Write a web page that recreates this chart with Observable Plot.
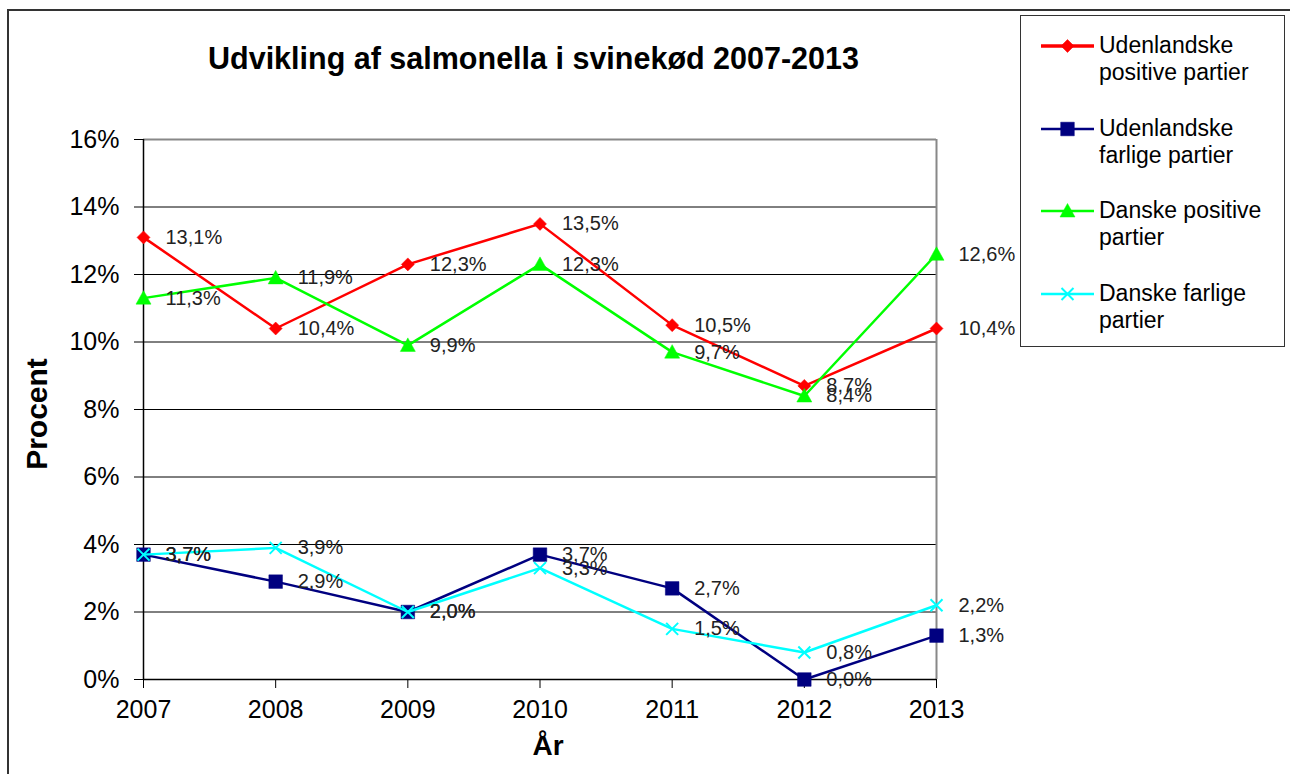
<!DOCTYPE html>
<html><head><meta charset="utf-8">
<script src="https://cdn.jsdelivr.net/npm/d3@7"></script>
<script src="https://cdn.jsdelivr.net/npm/@observablehq/plot@0.6"></script>
<style>
body{margin:0;background:#fff;font-family:"Liberation Sans",Arial,sans-serif;}
#wrap{position:relative;width:1290px;height:774px;overflow:hidden;background:#fff;}
#wrap svg.plot{position:absolute;left:0;top:0;}
.frame{position:absolute;left:7px;top:9px;width:2000px;height:2000px;border-left:2px solid #333;border-top:2px solid #333;pointer-events:none;}
.title{position:absolute;left:0;width:1067px;top:41px;text-align:center;font-weight:bold;font-size:30.5px;line-height:34px;color:#000;white-space:nowrap;}
.ylab{position:absolute;left:37px;top:414px;transform:translate(-50%,-50%) rotate(-90deg);font-weight:bold;font-size:30px;white-space:nowrap;color:#000;}
.xlab{position:absolute;left:548px;top:746px;transform:translate(-50%,-50%);font-weight:bold;font-size:28px;white-space:nowrap;color:#000;}
.legend{position:absolute;left:1020px;top:15px;width:263px;height:330px;border:1.5px solid #333;background:#fff;}
.entry{position:absolute;left:20px;width:240px;}
.entry svg{position:absolute;left:0;top:3px;}
.entry div{position:absolute;left:58px;width:185px;font-size:23px;line-height:27px;color:#000;}
</style></head><body><div id="wrap"></div>
<script>
const years = [2007, 2008, 2009, 2010, 2011, 2012, 2013];
const seriesNames = ["Udenlandske positive partier", "Udenlandske farlige partier", "Danske positive partier", "Danske farlige partier"];
const udenlandskePositive = [13.1, 10.4, 12.3, 13.5, 10.5, 8.7, 10.4];
const udenlandskeFarlige = [3.7, 2.9, 2.0, 3.7, 2.7, 0.0, 1.3];
const danskePositive = [11.3, 11.9, 9.9, 12.3, 9.7, 8.4, 12.6];
const danskeFarlige = [3.7, 3.9, 2.0, 3.3, 1.5, 0.8, 2.2];
const yTicks = [0, 2, 4, 6, 8, 10, 12, 14, 16];
const seriesColors = ["#ff0000", "#000080", "#00ff00", "#00ffff"];
const titleText = "Udvikling af salmonella i svinekød 2007-2013";
const yLabel = "Procent";
const xLabel = "År";

const seriesValues = [udenlandskePositive, udenlandskeFarlige, danskePositive, danskeFarlige];

// custom symbols (size = pi r^2)
const diamond = {draw(c, size){const r=Math.sqrt(size/Math.PI);c.moveTo(0,-r);c.lineTo(r,0);c.lineTo(0,r);c.lineTo(-r,0);c.closePath();}};
const square = {draw(c, size){const r=Math.sqrt(size/Math.PI);c.rect(-r,-r,2*r,2*r);}};
const triangle = {draw(c, size){const r=Math.sqrt(size/Math.PI);c.moveTo(0,-r);c.lineTo(r,0.8*r);c.lineTo(-r,0.8*r);c.closePath();}};
const times = {draw(c, size){const r=Math.sqrt(size/Math.PI);c.moveTo(-r,-r);c.lineTo(r,r);c.moveTo(r,-r);c.lineTo(-r,r);}};
const symbols = [diamond, square, triangle, times];
const symR = [6.5, 6.8, 7.5, 6];
const lineW = [2.5, 2.5, 2.5, 2.5];

const rows = seriesValues.map((vals, s) => years.map((year, i) => ({year, value: vals[i], s})));
const allRows = rows.flat();

const marks = [
  Plot.ruleY(yTicks.filter(t => t > 0 && t < 16), {stroke: "#000", strokeWidth: 1}),
  Plot.ruleY([16], {stroke: "#888", strokeWidth: 2}),
  Plot.ruleX([2013], {stroke: "#888", strokeWidth: 2}),
  Plot.ruleX([2007], {stroke: "#000", strokeWidth: 1.5}),
  Plot.ruleY([0], {stroke: "#000", strokeWidth: 1.5}),
  Plot.axisY(yTicks, {tickFormat: d => d + "%", tickSize: 9, tickPadding: 15, fontSize: 25, label: null, stroke: "#000"}),
  Plot.axisX(years, {tickFormat: d => String(d), tickSize: 9, tickPadding: 12, fontSize: 25, label: null, stroke: "#000"})
];
rows.forEach((r, s) => {
  marks.push(Plot.line(r, {x: "year", y: "value", stroke: seriesColors[s], strokeWidth: lineW[s]}));
  const isTimes = s === 3;
  marks.push(Plot.dot(r, {x: "year", y: "value", symbol: symbols[s], r: symR[s],
    fill: isTimes ? "none" : seriesColors[s], stroke: seriesColors[s], strokeWidth: isTimes ? 2 : 0.5}));
});
marks.push(Plot.text(allRows, {x: "year", y: "value", text: d => d.value.toFixed(1).replace(".", ",") + "%",
  dx: 22, textAnchor: "start", fontSize: 20, fill: "#222"}));

const svg = Plot.plot({
  width: 1290, height: 774,
  marginLeft: 143, marginRight: 354, marginTop: 139, marginBottom: 95,
  x: {domain: [2007, 2013], axis: null},
  y: {domain: [0, 16], axis: null},
  style: {fontFamily: '"Liberation Sans", Arial, sans-serif', fontSize: "25px", color: "#000", background: "#fff", overflow: "visible"},
  marks
});
svg.classList.add("plot");
const wrap = document.getElementById("wrap");
wrap.appendChild(svg);

const frame = document.createElement("div"); frame.className = "frame"; wrap.appendChild(frame);
const t = document.createElement("div"); t.className = "title"; t.textContent = titleText; wrap.appendChild(t);
const yl = document.createElement("div"); yl.className = "ylab"; yl.textContent = yLabel; wrap.appendChild(yl);
const xl = document.createElement("div"); xl.className = "xlab"; xl.textContent = xLabel; wrap.appendChild(xl);

const legend = document.createElement("div"); legend.className = "legend"; wrap.appendChild(legend);
seriesNames.forEach((name, s) => {
  const e = document.createElement("div"); e.className = "entry";
  e.style.top = (16 + s * 82.5) + "px";
  const ns = "http://www.w3.org/2000/svg";
  const sw = document.createElementNS(ns, "svg");
  sw.setAttribute("width", 56); sw.setAttribute("height", 22);
  const ln = document.createElementNS(ns, "line");
  ln.setAttribute("x1", 0); ln.setAttribute("x2", 53); ln.setAttribute("y1", 11); ln.setAttribute("y2", 11);
  ln.setAttribute("stroke", seriesColors[s]); ln.setAttribute("stroke-width", s === 0 ? 3.5 : 2.5);
  sw.appendChild(ln);
  const p = d3.path(); symbols[s].draw(p, Math.PI * symR[s] * symR[s]);
  const path = document.createElementNS(ns, "path");
  path.setAttribute("d", p.toString()); path.setAttribute("transform", "translate(26.5,11)");
  path.setAttribute("fill", s === 3 ? "none" : seriesColors[s]); path.setAttribute("stroke", seriesColors[s]);
  path.setAttribute("stroke-width", s === 3 ? 2 : 0.5);
  sw.appendChild(path);
  e.appendChild(sw);
  const tx = document.createElement("div"); tx.textContent = name; e.appendChild(tx);
  legend.appendChild(e);
});
</script></body></html>
